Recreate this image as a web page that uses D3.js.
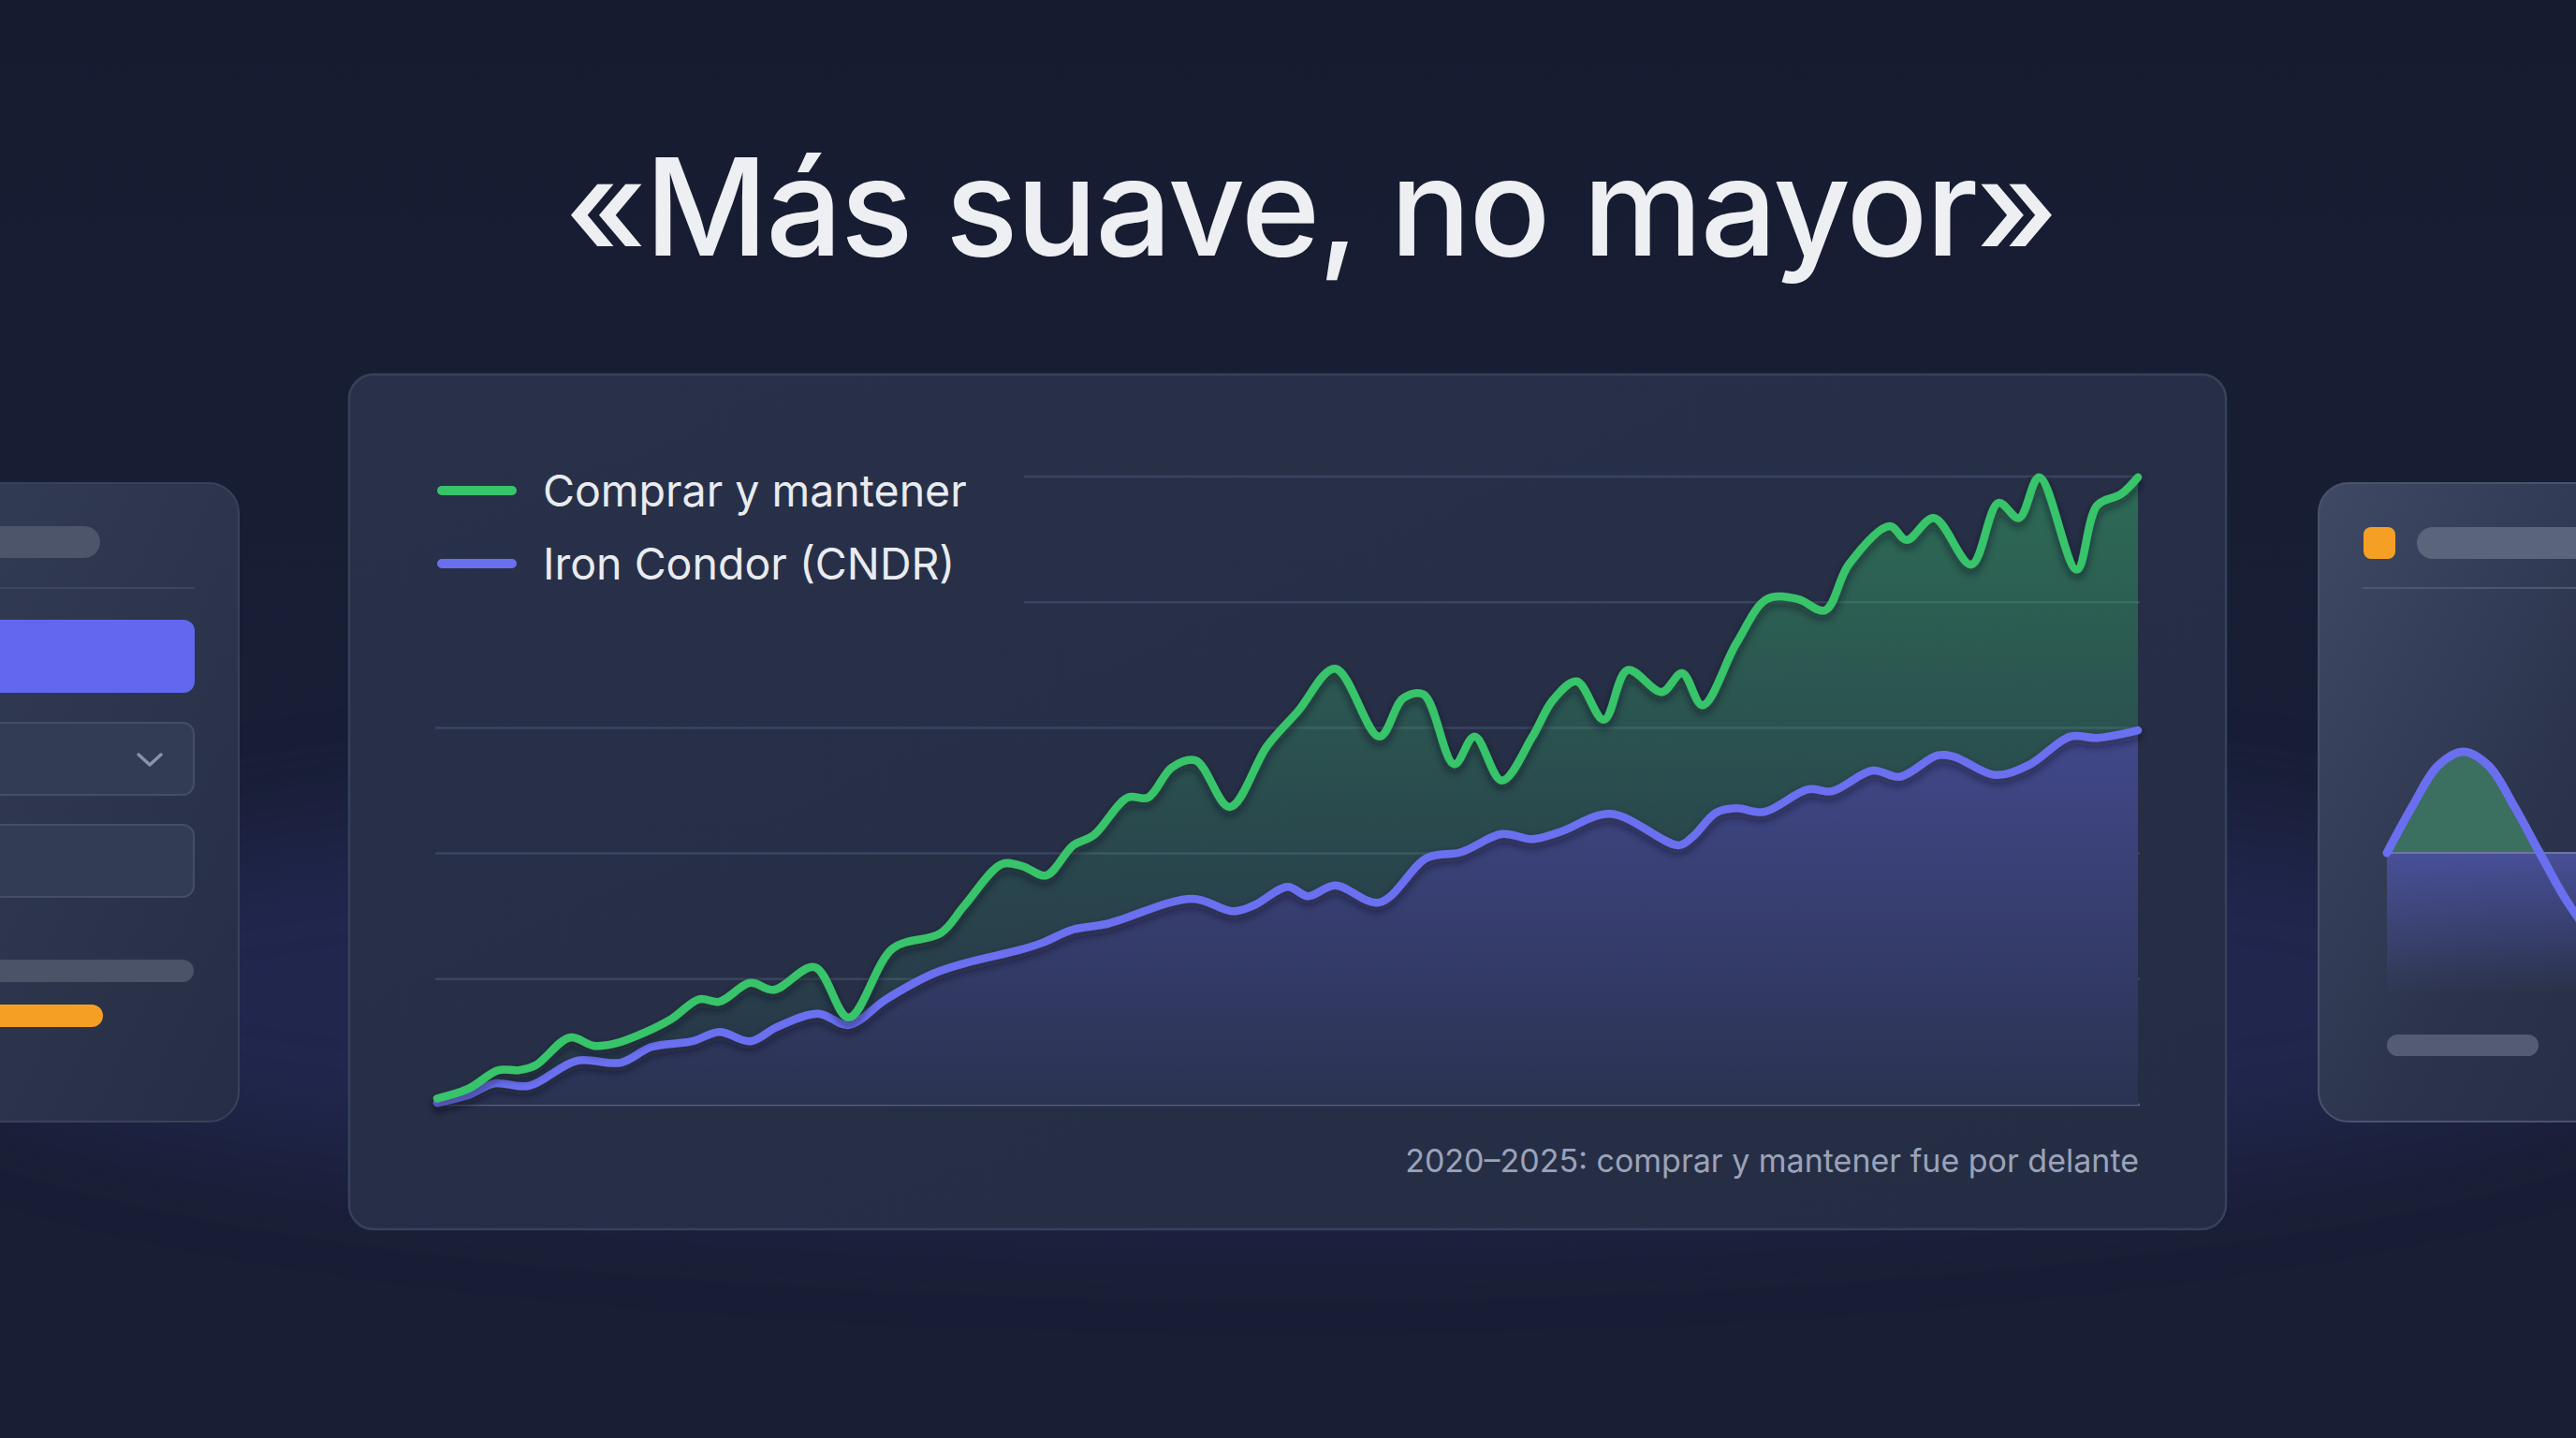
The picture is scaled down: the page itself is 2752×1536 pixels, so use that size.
<!DOCTYPE html>
<html>
<head>
<meta charset="utf-8">
<script src="https://cdn.jsdelivr.net/npm/d3@7"></script>
<style>
  html, body { margin: 0; padding: 0; background: #171d32; }
  svg { display: block; font-family: Inter, "Noto Sans", sans-serif; }
</style>
</head>
<body>
<svg width="2752" height="1536"></svg>
<script>
// Comprar y mantener (green), decimal years and values (growth of 100)
var greenT = [2020.00, 2020.09, 2020.18, 2020.24, 2020.29, 2020.39, 2020.46, 2020.52, 2020.61, 2020.69,
              2020.77, 2020.83, 2020.92, 2020.99, 2021.11, 2021.21, 2021.34, 2021.48, 2021.55, 2021.66,
              2021.72, 2021.79, 2021.87, 2021.93, 2022.03, 2022.09, 2022.16, 2022.23, 2022.33, 2022.44,
              2022.53, 2022.64, 2022.77, 2022.84, 2022.90, 2022.99, 2023.05, 2023.13, 2023.22, 2023.28,
              2023.35, 2023.43, 2023.50, 2023.60, 2023.66, 2023.72, 2023.82, 2023.91, 2024.00, 2024.08,
              2024.15, 2024.27, 2024.32, 2024.40, 2024.51, 2024.59, 2024.65, 2024.71, 2024.82, 2024.88,
              2024.95, 2025.00];
var greenV = [101.0, 102.5, 105.5, 105.5, 106.3, 110.7, 109.4, 109.7, 111.5, 113.7,
              116.8, 116.4, 119.4, 118.3, 121.9, 113.9, 124.9, 127.3, 131.7, 138.3,
              138.0, 136.5, 141.3, 142.9, 148.9, 148.9, 153.7, 154.8, 147.4, 157.1,
              162.6, 169.4, 158.6, 164.7, 165.3, 154.2, 158.6, 151.6, 158.6, 164.4,
              167.4, 161.3, 169.2, 165.7, 168.7, 163.6, 173.5, 180.5, 180.5, 178.7,
              186.0, 192.1, 189.9, 193.4, 186.0, 195.8, 193.4, 199.9, 185.2, 195.4,
              197.2, 199.9];

// Iron Condor (CNDR) (blue)
var blueT = [2020.00, 2020.09, 2020.17, 2020.27, 2020.41, 2020.54, 2020.63, 2020.75, 2020.83, 2020.92,
             2021.00, 2021.12, 2021.21, 2021.32, 2021.46, 2021.57, 2021.71, 2021.78, 2021.87, 2021.97,
             2022.22, 2022.34, 2022.40, 2022.50, 2022.56, 2022.64, 2022.77, 2022.91, 2023.01, 2023.13,
             2023.22, 2023.30, 2023.45, 2023.65, 2023.69, 2023.76, 2023.82, 2023.90, 2024.03, 2024.10,
             2024.22, 2024.30, 2024.41, 2024.46, 2024.58, 2024.68, 2024.80, 2024.88, 2025.00];
var blueV = [100.3, 101.5, 103.4, 103.0, 107.0, 106.7, 109.2, 110.1, 111.6, 110.1,
             112.4, 114.5, 112.7, 116.8, 120.9, 122.8, 124.6, 125.8, 127.9, 128.8,
             132.8, 130.8, 131.7, 134.7, 133.2, 134.9, 132.2, 139.3, 140.2, 143.1,
             142.3, 143.4, 146.3, 141.3, 142.6, 146.5, 147.2, 146.6, 150.2, 149.9,
             153.2, 152.2, 155.6, 155.4, 152.5, 154.1, 158.6, 158.4, 159.6];

var gridTicks = [100, 120, 140, 160, 180, 200];
var seriesNames = ["Comprar y mantener", "Iron Condor (CNDR)"];
var seriesColors = ["#38c46b", "#6a6ff0"];

// little decorative chart on the right card
var miniV = [0, 0.46, 0.86, 1, 0.86, 0.46, 0, -0.45, -0.8, -1];

var svg = d3.select("svg");
var defs = svg.append("defs");

function linGrad(id, x1, y1, x2, y2, stops, units) {
    var g = defs.append("linearGradient").attr("id", id)
        .attr("x1", x1).attr("y1", y1).attr("x2", x2).attr("y2", y2);
    if (units) g.attr("gradientUnits", units);
    stops.forEach(function (s) {
        g.append("stop").attr("offset", s[0]).attr("stop-color", s[1]).attr("stop-opacity", s[2] == null ? 1 : s[2]);
    });
}

linGrad("bgGrad", 0, 0, 0, 1, [[0, "#161c30"], [0.5, "#181e35"], [1, "#191e35"]]);
linGrad("panelGrad", 0, 0, 1, 1, [[0, "#283149"], [1, "#252d45"]]);
linGrad("leftCard", 0, 0, 1, 1, [[0, "#333c55"], [1, "#262e45"]]);
linGrad("rightCard", 0, 0, 1, 1, [[0, "#3f4964"], [0.6, "#2c344d"], [1, "#262e45"]]);
linGrad("greenFill", 0, 509, 0, 1180, [[0, "#38c46b", 0.4], [0.6, "#38c46b", 0.16], [1, "#38c46b", 0.04]], "userSpaceOnUse");
linGrad("blueFill", 0, 760, 0, 1180, [[0, "#6a6ff0", 0.42], [1, "#6a6ff0", 0.07]], "userSpaceOnUse");
linGrad("miniBlue", 0, 0, 0, 1, [[0, "#4b52a0", 0.9], [1, "#4b52a0", 0]]);

var blur = defs.append("filter").attr("id", "blur").attr("x", "-50%").attr("y", "-50%").attr("width", "200%").attr("height", "200%");
blur.append("feGaussianBlur").attr("stdDeviation", 60);

var shadow = defs.append("filter").attr("id", "lineShadow").attr("x", "-5%").attr("y", "-20%").attr("width", "110%").attr("height", "140%");
shadow.append("feDropShadow").attr("dx", 0).attr("dy", 5).attr("stdDeviation", 5)
    .attr("flood-color", "#0b0f1e").attr("flood-opacity", 0.55);

// background + glows
svg.append("rect").attr("width", 2752).attr("height", 1536).attr("fill", "url(#bgGrad)");
svg.append("ellipse").attr("cx", 1376).attr("cy", 1060).attr("rx", 1500).attr("ry", 240)
    .attr("fill", "#30357a").attr("opacity", 0.35).attr("filter", "url(#blur)");

// title
svg.append("text")
    .attr("x", 1400).attr("y", 273)
    .attr("text-anchor", "middle")
    .attr("font-size", 144).attr("font-weight", 500)
    .attr("letter-spacing", -2.0)
    .attr("fill", "#eeeff2")
    .text("«Más suave, no mayor»");

// ---- left decorative card
var lc = svg.append("g");
lc.append("rect").attr("x", -60).attr("y", 516).attr("width", 315).attr("height", 682).attr("rx", 32)
    .attr("fill", "url(#leftCard)").attr("stroke", "#3a4259").attr("stroke-width", 2);
lc.append("rect").attr("x", -40).attr("y", 562).attr("width", 147).attr("height", 34).attr("rx", 17).attr("fill", "#4c5569");
lc.append("line").attr("x1", 0).attr("x2", 208).attr("y1", 628).attr("y2", 628).attr("stroke", "#3e4760").attr("stroke-width", 2);
lc.append("rect").attr("x", -40).attr("y", 662).attr("width", 248).attr("height", 78).attr("rx", 12).attr("fill", "#6167ee");
[772, 881].forEach(function (y) {
    lc.append("rect").attr("x", -40).attr("y", y).attr("width", 247).attr("height", 77).attr("rx", 12)
        .attr("fill", "#333c55").attr("stroke", "#454e67").attr("stroke-width", 2);
});
lc.append("path").attr("d", "M148,806 L160,817 L172,806").attr("fill", "none")
    .attr("stroke", "#8b93a8").attr("stroke-width", 3.5).attr("stroke-linecap", "round").attr("stroke-linejoin", "round");
lc.append("rect").attr("x", -40).attr("y", 1025).attr("width", 247).attr("height", 24).attr("rx", 12).attr("fill", "#4a5368");
lc.append("rect").attr("x", -40).attr("y", 1073).attr("width", 150).attr("height", 24).attr("rx", 12).attr("fill", "#f5a024");

// ---- right decorative card
var rc = svg.append("g");
rc.append("rect").attr("x", 2477).attr("y", 516).attr("width", 340).attr("height", 682).attr("rx", 32)
    .attr("fill", "url(#rightCard)").attr("stroke", "#4a536c").attr("stroke-width", 2);
rc.append("rect").attr("x", 2525).attr("y", 563).attr("width", 34).attr("height", 34).attr("rx", 8).attr("fill", "#f5a024");
rc.append("rect").attr("x", 2582).attr("y", 563).attr("width", 220).attr("height", 34).attr("rx", 17).attr("fill", "#5a647a");
rc.append("line").attr("x1", 2524).attr("x2", 2760).attr("y1", 628).attr("y2", 628).attr("stroke", "#4d566e").attr("stroke-width", 2);

var mx = d3.scaleLinear().domain([0, miniV.length - 1]).range([2550, 2550 + 27.2 * (miniV.length - 1)]);
var my = d3.scaleLinear().domain([-1, 1]).range([1019, 803]);
var miniCurve = d3.curveCatmullRom;
rc.append("rect").attr("x", 2550).attr("y", my(0)).attr("width", 260).attr("height", 150).attr("fill", "url(#miniBlue)");
rc.append("path")
    .datum(miniV.slice(0, 7))
    .attr("fill", "#3b6f5f")
    .attr("d", d3.area().x(function (d, i) { return mx(i); }).y0(my(0)).y1(function (d) { return my(d); }).curve(miniCurve));
rc.append("line").attr("x1", 2550).attr("x2", 2760).attr("y1", my(0)).attr("y2", my(0)).attr("stroke", "#6e77a0").attr("stroke-width", 2);
rc.append("path")
    .datum(miniV)
    .attr("fill", "none").attr("stroke", "#6a6ff0").attr("stroke-width", 9).attr("stroke-linecap", "round")
    .attr("d", d3.line().x(function (d, i) { return mx(i); }).y(function (d) { return my(d); }).curve(miniCurve));
rc.append("rect").attr("x", 2550).attr("y", 1105).attr("width", 162).attr("height", 23).attr("rx", 11.5).attr("fill", "#535c73");

// ---- main panel
svg.append("rect").attr("x", 373).attr("y", 400).attr("width", 2005).attr("height", 913).attr("rx", 26)
    .attr("fill", "url(#panelGrad)").attr("stroke", "#38415b").attr("stroke-width", 2.5);

var x = d3.scaleLinear().domain([2020, 2025]).range([467, 2284]);
var y = d3.scaleLinear().domain([100, 200]).range([1180, 509]);

var green = d3.zip(greenT, greenV);
var blue = d3.zip(blueT, blueV);

var g = svg.append("g");

// grid (top two lines start after the legend)
g.selectAll(".grid")
    .data(gridTicks)
    .enter().append("line")
    .attr("class", "grid")
    .attr("x1", function (d) { return d >= 180 ? 1094 : 465; })
    .attr("x2", 2286)
    .attr("y1", function (d) { return y(d); })
    .attr("y2", function (d) { return y(d); })
    .attr("stroke", function (d) { return d === 100 ? "#56607c" : "#3b4460"; })
    .attr("stroke-width", 2.5);

var curve = d3.curveCatmullRom.alpha(0.5);
var area = d3.area()
    .x(function (d) { return x(d[0]); })
    .y0(y(100))
    .y1(function (d) { return y(d[1]); })
    .curve(curve);
var line = d3.line()
    .x(function (d) { return x(d[0]); })
    .y(function (d) { return y(d[1]); })
    .curve(curve);

g.append("path").datum(green).attr("fill", "url(#greenFill)").attr("d", area);
// mask green under the blue area, then tint blue
g.append("path").datum(blue).attr("fill", "#262e46").attr("d", area);
g.append("path").datum(blue).attr("fill", "url(#blueFill)").attr("d", area);

g.append("path").datum(blue)
    .attr("fill", "none").attr("stroke", seriesColors[1]).attr("stroke-width", 8.5)
    .attr("stroke-linejoin", "round").attr("stroke-linecap", "round")
    .attr("filter", "url(#lineShadow)")
    .attr("d", line);
g.append("path").datum(green)
    .attr("fill", "none").attr("stroke", seriesColors[0]).attr("stroke-width", 8.5)
    .attr("stroke-linejoin", "round").attr("stroke-linecap", "round")
    .attr("filter", "url(#lineShadow)")
    .attr("d", line);

// legend
var legend = g.selectAll(".legend")
    .data(seriesNames)
    .enter().append("g")
    .attr("class", "legend")
    .attr("transform", function (d, i) { return "translate(0," + (524 + i * 78) + ")"; });
legend.append("line")
    .attr("x1", 472).attr("x2", 547)
    .attr("stroke", function (d, i) { return seriesColors[i]; })
    .attr("stroke-width", 10).attr("stroke-linecap", "round");
legend.append("text")
    .attr("x", 580).attr("y", 17)
    .attr("font-size", 46.5)
    .attr("fill", "#e9ebf0")
    .text(function (d) { return d; });

// caption
g.append("text")
    .attr("x", 2285).attr("y", 1252)
    .attr("text-anchor", "end")
    .attr("font-size", 34)
    .attr("fill", "#9ba3b9")
    .text("2020–2025: comprar y mantener fue por delante");
</script>
</body>
</html>
